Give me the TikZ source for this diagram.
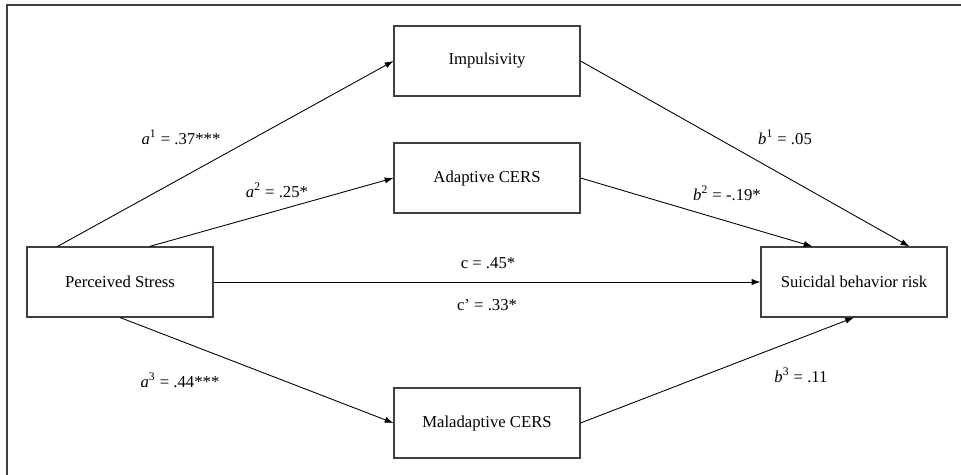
\documentclass[tikz,border=0pt]{standalone}
\usepackage{fontspec}
\setmainfont{Liberation Serif}
\usetikzlibrary{arrows.meta}

\begin{document}
\begin{tikzpicture}[x=0.02cm,y=-0.02cm,
  construct/.style={draw=black!75,line width=0.6pt,minimum width=3.72cm,minimum height=1.4cm,
    font=\fontsize{9.5}{11}\selectfont},
  effect/.style={-{Latex[length=5pt,width=3.5pt]},line width=0.5pt},
  coef/.style={font=\fontsize{9.5}{11}\selectfont,inner sep=0pt}]

  \useasboundingbox (0,0) rectangle (961,475);
  \draw[line width=1.2pt,black!75] (961,5) -- (7,5) -- (7,475);

  \node[construct] (stress) at (120,282) {Perceived Stress};
  \node[construct] (imp) at (487,61) {Impulsivity};
  \node[construct] (adapt) at (487,178) {Adaptive CERS};
  \node[construct] (malad) at (487,423) {Maladaptive CERS};
  \node[construct] (risk) at (854,282) {Suicidal behavior risk};

  \draw[effect] ([xshift=0.62cm]stress.north west) -- (imp.west);
  \draw[effect] ([xshift=2.46cm]stress.north west) -- (adapt.west);
  \draw[effect] (stress.east) -- (risk.west);
  \draw[effect] (stress.south) -- (malad.west);
  \draw[effect] (imp.east) -- ([xshift=2.98cm]risk.north west);
  \draw[effect] (adapt.east) -- ([xshift=1.04cm]risk.north west);
  \draw[effect] (malad.east) -- (risk.south);

  \node[coef] (a1) at (181,137) {\textit{a}\textsuperscript{1} = .37***};
  \node[coef] (a2) at (277,190) {\textit{a}\textsuperscript{2} = .25*};
  \node[coef] (a3) at (180,380) {\textit{a}\textsuperscript{3} = .44***};
  \node[coef] (b1) at (785,137) {\textit{b}\textsuperscript{1} = .05};
  \node[coef] (b2) at (727,193) {\textit{b}\textsuperscript{2} = -.19*};
  \node[coef] (b3) at (801,375) {\textit{b}\textsuperscript{3} = .11};
  \node[coef] (c) at (488,263) {c = .45*};
  \node[coef] (cp) at (487,305) {c’ = .33*};
\end{tikzpicture}
\end{document}
